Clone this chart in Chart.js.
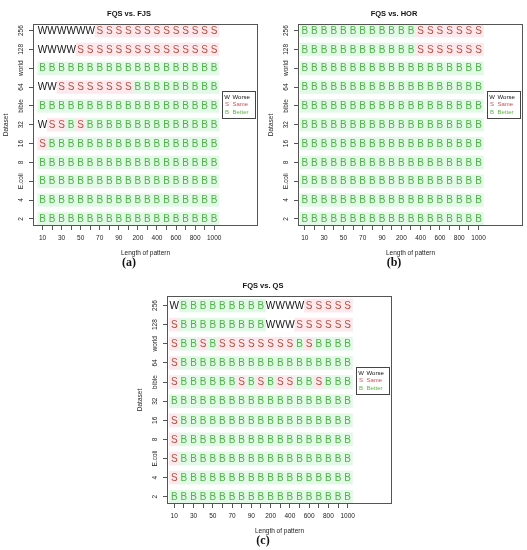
<!DOCTYPE html>
<html>
<head>
<meta charset="utf-8">
<script src="https://cdn.jsdelivr.net/npm/chart.js@4"></script>
<style>
  body { margin: 0; background: #fff; }
  #wrap { position: relative; width: 527px; height: 550px; overflow: hidden; }
  canvas { position: absolute; }
</style>
</head>
<body>
<div id="wrap">
  <canvas id="chartA" width="262" height="272" style="left:0;top:0"></canvas>
  <canvas id="chartB" width="262" height="272" style="left:265px;top:0"></canvas>
  <canvas id="chartC" width="262" height="278" style="left:134px;top:272px"></canvas>
</div>
<script>
// pattern lengths (x) and data sets (y, bottom to top)
const lengths = ['10','20','30','40','50','60','70','80','90','100','200','300','400','500','600','700','800','900','1000'];
const dataNames = ['2','4','E.coli','8','16','32','bible','64','world','128','256'];

// one string per data set, one letter per pattern length
// W = worse, S = same, B = better
const fqsVsFjs = [
  'BBBBBBBBBBBBBBBBBBB', // 2
  'BBBBBBBBBBBBBBBBBBB', // 4
  'BBBBBBBBBBBBBBBBBBB', // E.coli
  'BBBBBBBBBBBBBBBBBBB', // 8
  'SBBBBBBBBBBBBBBBBBB', // 16
  'WSSBSBBBBBBBBBBBBBB', // 32
  'BBBBBBBBBBBBBBBBBBB', // bible
  'WWSSSSSSSSBBBBBBBBB', // 64
  'BBBBBBBBBBBBBBBBBBB', // world
  'WWWWSSSSSSSSSSSSSSS', // 128
  'WWWWWWSSSSSSSSSSSSS'  // 256
];
const fqsVsHor = [
  'BBBBBBBBBBBBBBBBBBB',
  'BBBBBBBBBBBBBBBBBBB',
  'BBBBBBBBBBBBBBBBBBB',
  'BBBBBBBBBBBBBBBBBBB',
  'BBBBBBBBBBBBBBBBBBB',
  'BBBBBBBBBBBBBBBBBBB',
  'BBBBBBBBBBBBBBBBBBB',
  'BBBBBBBBBBBBBBBBBBB',
  'BBBBBBBBBBBBBBBBBBB',
  'BBBBBBBBBBBBSSSSSSS',
  'BBBBBBBBBBBBSSSSSSS'
];
const fqsVsQs = [
  'BBBBBBBBBBBBBBBBBBB', // 2
  'SBBBBBBBBBBBBBBBBBB', // 4
  'SBBBBBBBBBBBBBBBBBB', // E.coli
  'SBBBBBBBBBBBBBBBBBB', // 8
  'SBBBBBBBBBBBBBBBBBB', // 16
  'BBBBBBBBBBBBBBBBBBB', // 32
  'SBBBBBBSBSBSSBBSBBB', // bible
  'SBBBBBBBBBBBBBBBBBB', // 64
  'SBBSBSSSSSSSSBSBBBB', // world
  'SBBBBBBBBBWWWSSSSSS', // 128
  'WBBBBBBBBBWWWWSSSSS'  // 256
];
const legendLetters = ['W', 'S', 'B'];
const legendWords = ['Worse', 'Same', 'Better'];

const FONT = "'Liberation Sans', Arial, Helvetica, sans-serif";
const letterColor = { W: '#111111', S: '#b5503c', B: '#4cb444' };
const legendColor = { W: '#111111', S: '#d0505a', B: '#5cb848' };
const cellColor = { W: 'rgba(255,255,255,0)', S: '#fde8ee', B: '#e3f9e7' };

Chart.defaults.font.family = FONT;
Chart.defaults.color = '#222';

// letters on top of the cells
const gridText = {
  id: 'gridText',
  afterDatasetsDraw(chart, args, opts) {
    const { ctx, scales: { x, y } } = chart;
    ctx.save();
    ctx.font = '10px ' + FONT;
    ctx.textAlign = 'center';
    ctx.textBaseline = 'middle';
    opts.rows.forEach((row, r) => {
      row.split('').forEach((c, i) => {
        ctx.fillStyle = letterColor[c];
        ctx.fillText(c, x.getPixelForValue(i), y.getPixelForValue(r) + 0.5);
      });
    });
    ctx.restore();
  }
};

// box round the plot
const frame = {
  id: 'frame',
  afterDatasetsDraw(chart) {
    const { ctx, chartArea: a } = chart;
    ctx.save();
    ctx.strokeStyle = '#555';
    ctx.lineWidth = 1;
    ctx.strokeRect(Math.round(a.left) + 0.5, Math.round(a.top) + 0.5,
      Math.round(a.right - a.left) - 1, Math.round(a.bottom - a.top) - 1);
    ctx.restore();
  }
};

// W/S/B key inside the plot
const resultLegend = {
  id: 'resultLegend',
  afterDraw(chart) {
    const { ctx, chartArea, scales: { y } } = chart;
    const w = 33, h = 27;
    const left = Math.round(chartArea.right - 3 - w);
    const top = Math.round(y.getPixelForValue(6.1) - h / 2);
    ctx.save();
    ctx.fillStyle = '#fff';
    ctx.fillRect(left, top, w, h);
    ctx.strokeStyle = '#444';
    ctx.lineWidth = 1;
    ctx.strokeRect(left + 0.5, top + 0.5, w, h);
    ctx.font = '6px ' + FONT;
    ctx.textBaseline = 'middle';
    legendLetters.forEach((c, k) => {
      const ly = top + 6 + k * 7.5;
      ctx.fillStyle = legendColor[c];
      ctx.textAlign = 'center';
      ctx.fillText(c, left + 5, ly);
      ctx.textAlign = 'left';
      ctx.fillText(legendWords[k], left + 10.5, ly);
    });
    ctx.restore();
  }
};

function makeChart(id, title, tag, rows, xMin, yMax) {
  const sets = rows.map((row, r) => ({
    data: row.split('').map((c, i) => ({ x: i, y: [r - 0.34, r + 0.34] })),
    backgroundColor: row.split('').map(c => cellColor[c]),
    borderWidth: 0,
    barPercentage: 1,
    categoryPercentage: 1,
    grouped: false
  }));
  return new Chart(document.getElementById(id), {
    type: 'bar',
    data: { datasets: sets },
    options: {
      responsive: false,
      animation: false,
      layout: { padding: { left: 0, right: 4, top: 0, bottom: 0 } },
      plugins: {
        legend: { display: false },
        tooltip: { enabled: false },
        title: {
          display: true, text: title, color: '#111',
          font: { size: 7.5, weight: 'bold' },
          padding: { top: 9, bottom: 6 }
        },
        subtitle: {
          display: true, text: tag, position: 'bottom', color: '#111',
          font: { family: "'Liberation Serif', 'DejaVu Serif', serif", size: 12, weight: 'bold', lineHeight: 1 },
          padding: { top: 0, bottom: 3 }
        },
        gridText: { rows: rows }
      },
      scales: {
        x: {
          type: 'linear',
          min: xMin, max: 22.6,
          offset: false,
          afterBuildTicks: s => { s.ticks = lengths.map((_, i) => ({ value: i })); },
          afterFit: s => { s.height = 31; },
          grid: { offset: false, drawOnChartArea: false, tickLength: 4, color: '#555' },
          border: { display: false },
          ticks: {
            autoSkip: false, maxRotation: 0, padding: 4,
            font: { size: 6.5 }, color: '#222',
            callback: (v, i) => (i % 2 === 0 ? lengths[v] : '')
          },
          title: {
            display: true, text: 'Length of pattern', color: '#222',
            font: { size: 6.5 }, padding: { top: 0, bottom: 0 }
          }
        },
        y: {
          type: 'linear',
          min: -0.38, max: yMax,
          afterBuildTicks: s => { s.ticks = dataNames.map((_, i) => ({ value: i })); },
          afterFit: s => { s.width = 33; },
          grid: { drawOnChartArea: false, tickLength: 4, color: '#555' },
          border: { display: false },
          ticks: {
            autoSkip: false, minRotation: 90, maxRotation: 90,
            crossAlign: 'center', padding: 0,
            font: { size: 6.5 }, color: '#222',
            callback: v => dataNames[v]
          },
          title: {
            display: true, text: 'Dataset', color: '#222',
            font: { size: 6.5 }, padding: { top: 2, bottom: 0 }
          }
        }
      }
    },
    plugins: [gridText, frame, resultLegend]
  });
}

makeChart('chartA', 'FQS vs. FJS', '(a)', fqsVsFjs, -1.0, 10.35);
makeChart('chartB', 'FQS vs. HOR', '(b)', fqsVsHor, -0.7, 10.35);
makeChart('chartC', 'FQS vs. QS', '(c)', fqsVsQs, -0.75, 10.5);
</script>
</body>
</html>
